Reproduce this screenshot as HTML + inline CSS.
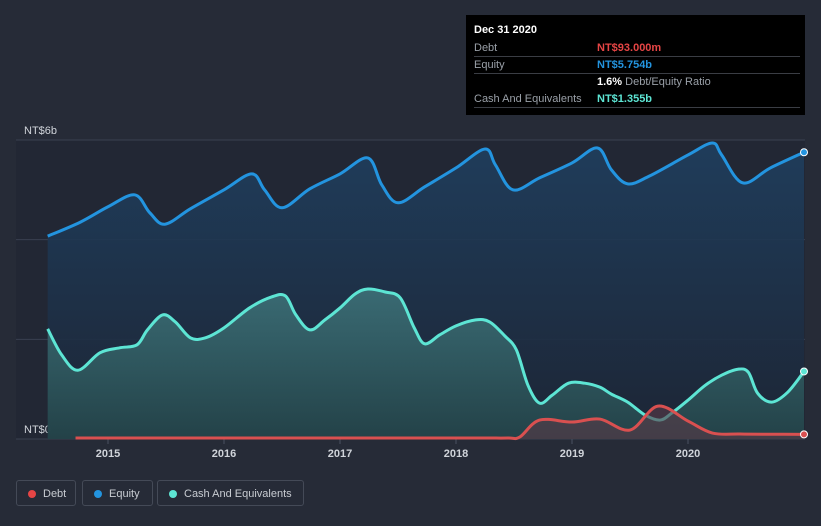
<!DOCTYPE html>
<html><head><meta charset="utf-8"><style>
body{margin:0;background:#262b37;font-family:"Liberation Sans",sans-serif;}
#wrap{position:relative;width:821px;height:526px;overflow:hidden;background:#262b37}
.tip{position:absolute;left:466px;top:15px;width:339px;height:100px;background:#000;font-size:11px;color:#9aa0a8}
.row{position:absolute;left:8px;width:326px;border-bottom:1px solid #3a3d44;height:16px;line-height:16px}
.lg{position:absolute;top:480px;height:26px;border:1px solid #444a57;border-radius:3px;color:#c8ccd2;font-size:11px;line-height:26px;box-sizing:border-box;padding-left:26px}
.lg i{position:absolute;left:11px;top:9px;width:8px;height:8px;border-radius:50%}
</style></head><body>
<div id="wrap">
<svg id="chart" width="821" height="526" style="position:absolute;left:0;top:0"></svg>
<div class="tip">
 <div style="position:absolute;left:8px;top:9px;color:#fff;font-weight:bold">Dec 31 2020</div>
 <div class="row" style="top:25px">Debt<span style="position:absolute;left:123px;color:#e64545;font-weight:bold">NT$93.000m</span></div>
 <div class="row" style="top:42px">Equity<span style="position:absolute;left:123px;color:#2394df;font-weight:bold">NT$5.754b</span><span style="position:absolute;left:123px;top:17px"><b style="color:#fff">1.6%</b> Debt/Equity Ratio</span></div>
 <div class="row" style="top:76px">Cash And Equivalents<span style="position:absolute;left:123px;color:#5de5d4;font-weight:bold">NT$1.355b</span></div>
</div>
<div class="lg" style="left:16px;width:60px"><i style="background:#e64545"></i>Debt</div>
<div class="lg" style="left:82px;width:71px"><i style="background:#2394df"></i>Equity</div>
<div class="lg" style="left:157px;width:147px"><i style="background:#5de5d4"></i>Cash And Equivalents</div>
</div>
<script>
const equityT=[2014.48,2014.76,2015.0,2015.23,2015.36,2015.49,2015.71,2016.0,2016.24,2016.35,2016.5,2016.74,2017.0,2017.24,2017.36,2017.5,2017.73,2018.0,2018.25,2018.34,2018.49,2018.72,2019.0,2019.22,2019.34,2019.48,2019.67,2020.0,2020.21,2020.29,2020.47,2020.71,2021.0];
const equityV=[4.07,4.35,4.66,4.9,4.54,4.31,4.62,5.0,5.32,5.0,4.64,5.02,5.32,5.64,5.1,4.74,5.06,5.44,5.82,5.5,5.0,5.24,5.54,5.84,5.4,5.12,5.28,5.7,5.94,5.7,5.14,5.44,5.754];
const cashT=[2014.48,2014.6,2014.74,2014.93,2015.1,2015.25,2015.34,2015.47,2015.58,2015.71,2015.84,2016.0,2016.22,2016.41,2016.53,2016.62,2016.74,2016.87,2017.0,2017.13,2017.24,2017.39,2017.52,2017.64,2017.73,2017.86,2018.0,2018.17,2018.29,2018.42,2018.52,2018.62,2018.72,2018.83,2018.97,2019.11,2019.24,2019.34,2019.48,2019.63,2019.76,2019.86,2020.0,2020.15,2020.29,2020.43,2020.52,2020.6,2020.72,2020.86,2021.0];
const cashV=[2.21,1.69,1.38,1.73,1.83,1.89,2.19,2.49,2.35,2.03,2.03,2.23,2.63,2.85,2.87,2.49,2.19,2.39,2.63,2.91,3.01,2.95,2.83,2.23,1.91,2.09,2.27,2.39,2.35,2.07,1.79,1.08,0.72,0.88,1.12,1.12,1.04,0.9,0.74,0.48,0.38,0.52,0.78,1.08,1.28,1.4,1.34,0.92,0.74,0.94,1.355];
const debtT=[2014.72,2015.5,2016.5,2017.5,2018.2,2018.45,2018.55,2018.72,2019.0,2019.24,2019.5,2019.74,2020.0,2020.21,2020.45,2020.75,2021.0];
const debtV=[0.02,0.02,0.02,0.02,0.02,0.02,0.04,0.38,0.34,0.4,0.18,0.66,0.36,0.12,0.1,0.095,0.093];
const yearTicks=[2015,2016,2017,2018,2019,2020];
const yTicks=[0,2,4,6];
const yLabels={0:"NT$0",6:"NT$6b"};
const X=t=>108+(t-2015)*116, Y=v=>439-v*299/6;
const NS="http://www.w3.org/2000/svg",svg=document.getElementById('chart');
function mk(tag,attrs){const e=document.createElementNS(NS,tag);for(const k in attrs)e.setAttribute(k,attrs[k]);svg.appendChild(e);return e;}
function path(T,V){const p=T.map((t,i)=>[X(t),Y(V[i])]);let d="M"+p[0];for(let i=0;i<p.length-1;i++){const a=p[i-1]||p[i],b=p[i],c=p[i+1],e=p[i+2]||c;
d+="C"+(b[0]+(c[0]-a[0])/6)+","+(b[1]+(c[1]-a[1])/6)+" "+(c[0]-(e[0]-b[0])/6)+","+(c[1]-(e[1]-b[1])/6)+" "+c[0]+","+c[1];}return d;}
const defs=mk('defs',{});
defs.innerHTML='<linearGradient id="gb" x1="0" y1="0" x2="0" y2="1"><stop offset="0" stop-color="#1f3f5f"/><stop offset="1" stop-color="#1c2535"/></linearGradient><linearGradient id="gc" x1="0" y1="0" x2="0" y2="1"><stop offset="0" stop-color="#3d7178"/><stop offset="1" stop-color="#24454a"/></linearGradient>';
const bg=mk('rect',{x:16,y:140,width:789,height:299,fill:"#222734"});

yTicks.forEach(v=>{const l=mk('line',{x1:16,x2:805,y1:Y(v),y2:Y(v),stroke:"#3a4050","stroke-width":1});

if(yLabels[v]){const t=mk('text',{x:24,y:Y(v)-6,fill:"#d0d4da","font-size":11});t.textContent=yLabels[v];
}});
yearTicks.forEach(y=>{const k=mk('line',{x1:X(y),x2:X(y),y1:439,y2:444,stroke:"#4a5060"});

const t=mk('text',{x:X(y),y:457,fill:"#d0d4da","font-size":11,"font-weight":"bold","text-anchor":"middle"});t.textContent=y;
});
function series(T,V,col,fill,name,op){const d=path(T,V);
if(fill){const a=mk('path',{d:d+"L"+X(T[T.length-1])+","+Y(0)+"L"+X(T[0])+","+Y(0)+"Z",fill:fill,opacity:op});
}
const l=mk('path',{d:d,fill:"none",stroke:col,"stroke-width":3});

const c=mk('circle',{cx:X(T[T.length-1]),cy:Y(V[V.length-1]),r:3.5,fill:col,stroke:"#fff","stroke-width":1});
}
series(equityT,equityV,"#2394df","url(#gb)","equity",0.9);
series(cashT,cashV,"#5de5d4","url(#gc)","cash",0.9);
series(debtT,debtV,"#d95050","#5a3a48","debt",0.6);
</script>
</body></html>
